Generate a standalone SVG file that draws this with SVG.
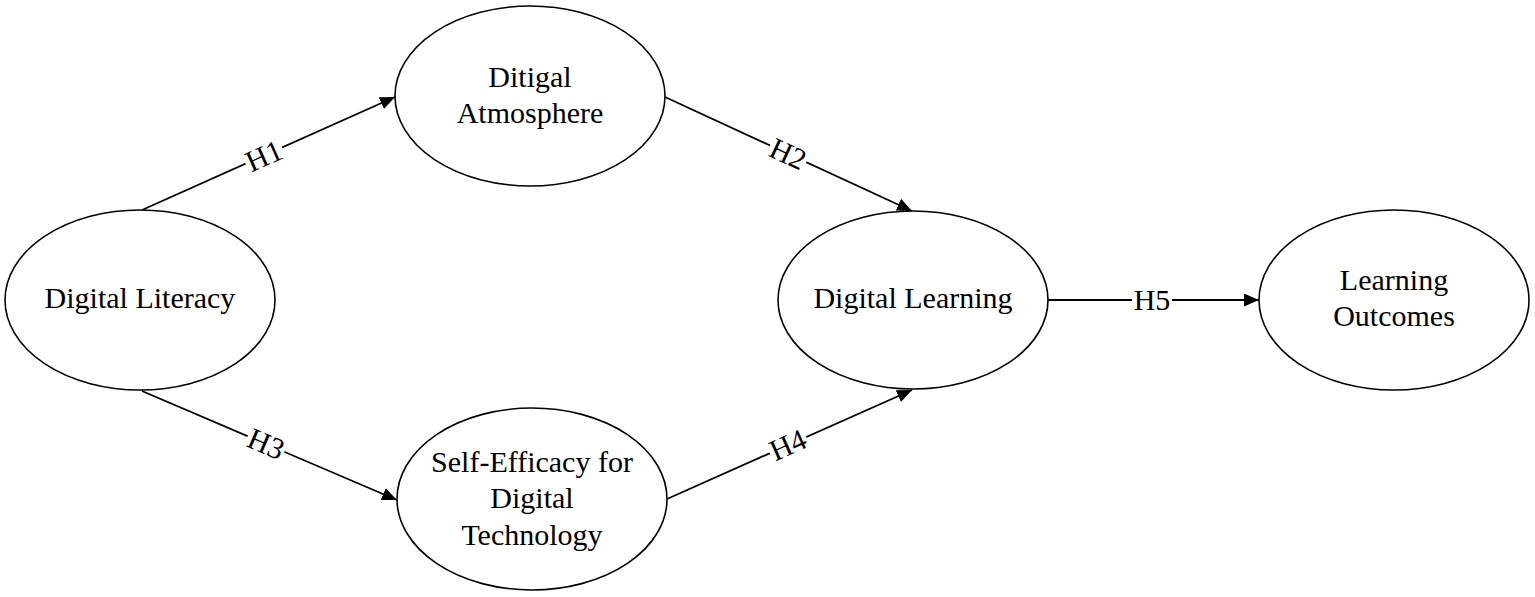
<svg xmlns="http://www.w3.org/2000/svg" width="1535" height="597" viewBox="0 0 1535 597">
<style>
.node ellipse{fill:#fff;stroke:#000;stroke-width:1.6}
.node text,.lbl text{font-family:"Liberation Serif","Times New Roman",serif;font-size:30px;fill:#000;text-anchor:middle}
.edge{stroke:#000;stroke-width:1.8;fill:none;marker-end:url(#arr)}
.lbl rect{fill:#fff}
</style>
<defs>
<marker id="arr" markerUnits="userSpaceOnUse" markerWidth="16" markerHeight="14" refX="15" refY="6.5" orient="auto">
<path d="M0,0 L15,6.5 L0,13 z" fill="#000"/>
</marker>
</defs>
<rect width="1535" height="597" fill="#fff"/>
<g id="connectors">
<line class="edge" x1="142" y1="210" x2="395" y2="97"/>
<line class="edge" x1="665" y1="97" x2="912" y2="211"/>
<line class="edge" x1="142" y1="391" x2="397" y2="500"/>
<line class="edge" x1="667" y1="499" x2="912" y2="390"/>
<line class="edge" x1="1048" y1="300" x2="1259" y2="300"/>
<g class="lbl" transform="translate(264,156) rotate(-24.07)"><rect x="-20" y="-12" width="40" height="24"/><text y="10">H1</text></g>
<g class="lbl" transform="translate(788,154) rotate(24.78)"><rect x="-20" y="-12" width="40" height="24"/><text y="10">H2</text></g>
<g class="lbl" transform="translate(266,444) rotate(23.14)"><rect x="-20" y="-12" width="40" height="24"/><text y="10">H3</text></g>
<g class="lbl" transform="translate(788,445) rotate(-23.98)"><rect x="-20" y="-12" width="40" height="24"/><text y="10">H4</text></g>
<g class="lbl" transform="translate(1152,300)"><rect x="-20" y="-12" width="40" height="24"/><text y="10">H5</text></g>
</g>
<g id="digital-literacy" class="node">
<ellipse cx="140" cy="300" rx="135" ry="90"/>
<text x="140" y="308">Digital Literacy</text>
</g>
<g id="digital-atmosphere" class="node">
<ellipse cx="530" cy="96" rx="135" ry="90"/>
<text x="530" y="87">Ditigal</text>
<text x="530" y="123">Atmosphere</text>
</g>
<g id="self-efficacy" class="node">
<ellipse cx="532" cy="499" rx="135" ry="91"/>
<text x="532" y="472">Self-Efficacy for</text>
<text x="532" y="508">Digital</text>
<text x="532" y="545">Technology</text>
</g>
<g id="digital-learning" class="node">
<ellipse cx="913" cy="300" rx="135" ry="89"/>
<text x="913" y="308">Digital Learning</text>
</g>
<g id="learning-outcomes" class="node">
<ellipse cx="1394" cy="300" rx="135" ry="90"/>
<text x="1394" y="290">Learning</text>
<text x="1394" y="326">Outcomes</text>
</g>
</svg>
